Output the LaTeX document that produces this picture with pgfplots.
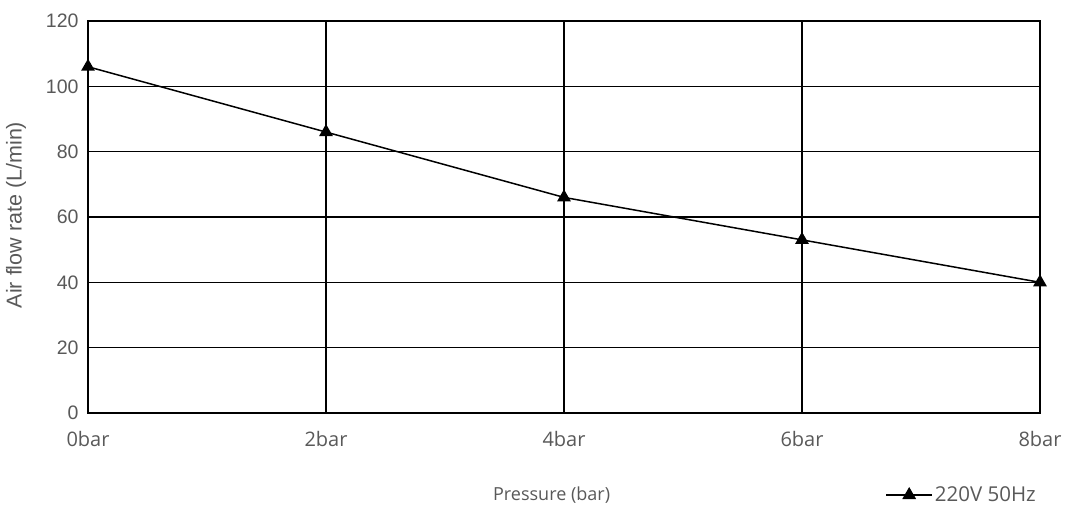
\documentclass[border=0pt]{standalone}
\usepackage{pgfplots}
\pgfplotsset{compat=1.18}
\usepackage{fontspec}
\setmainfont{Open Sans}
\newfontfamily\arialfont{Liberation Sans}
\definecolor{txtgrey}{HTML}{595959}

\begin{document}
\begin{tikzpicture}[x=1pt,y=1pt]
\path[use as bounding box] (0,0) rectangle (1065,506);
\begin{axis}[
  at={(88pt,93pt)}, anchor=south west,
  scale only axis,
  width=952pt, height=392pt,
  xmin=0, xmax=8, ymin=0, ymax=120,
  xtick={0,2,4,6,8},
  xticklabels={0bar,2bar,4bar,6bar,8bar},
  ytick={0,20,...,120},
  grid=major,
  major grid style={black, line width=1.6pt},
  axis line style={black, line width=1.6pt},
  tick style={draw=none},
  /pgf/number format/assume math mode=true,
  xticklabel style={font=\fontsize{20}{24}\selectfont, text=txtgrey, yshift=-15pt},
  yticklabel style={font=\arialfont\fontsize{19.5}{23}\selectfont, text=txtgrey, xshift=-6pt},
  xlabel={Pressure (bar)},
  ylabel={Air flow rate (L/min)},
  xlabel style={font=\fontsize{18}{22}\selectfont, text=txtgrey,
    at={(axis description cs:0.487,0)}, anchor=center, yshift=-82pt},
  ylabel style={font=\arialfont\fontsize{21.5}{25}\selectfont, text=txtgrey,
    at={(axis description cs:-0.0756,0.505)}, anchor=center},
  legend style={at={(1,0)}, anchor=east, xshift=-2pt, yshift=-82pt,
    draw=none, fill=none, font=\fontsize{20.5}{24}\selectfont,
    text=txtgrey, inner sep=0pt},
  legend cell align=left,
  legend image code/.code={
    \draw[black, line width=1.5pt] (-14pt,0pt) -- (32pt,0pt);
    \draw[black, fill=black, mark size=6.5pt] plot coordinates {(9pt,0pt)};
  },
]
\addplot[black, line width=1.5pt, mark=triangle*, mark size=6.5pt,
  mark options={fill=black}]
  coordinates {(0,106) (2,86) (4,66) (6,53) (8,40)};
\addlegendentry{220V 50Hz}
\end{axis}
\end{tikzpicture}
\end{document}
